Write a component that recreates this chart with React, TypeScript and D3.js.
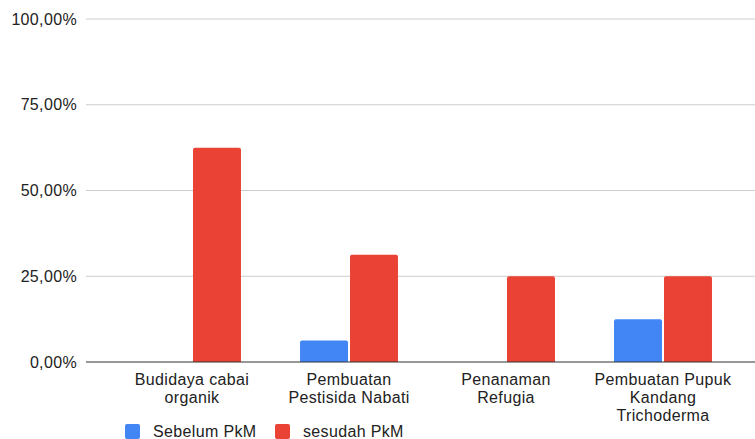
import React from "react";
import * as d3 from "d3";

const categories: string[][] = [
  ["Budidaya cabai", "organik"],
  ["Pembuatan", "Pestisida Nabati"],
  ["Penanaman", "Refugia"],
  ["Pembuatan Pupuk", "Kandang", "Trichoderma"],
];
const seriesNames = ["Sebelum PkM", "sesudah PkM"];
const seriesColors = ["#4285F4", "#EA4335"];
const sebelum = [0, 6.25, 0, 12.5];
const sesudah = [62.5, 31.25, 25, 25];
const yTicks = [0, 25, 50, 75, 100];

const W = 755;
const H = 439;
const FONT = "Arial, 'Liberation Sans', sans-serif";
const LS = 0.35;

export default function App() {
  const catKeys = categories.map((c) => c.join(" "));
  const x = d3
    .scaleBand<string>()
    .domain(catKeys)
    .range([113.5, 741.5])
    .paddingInner(0.376)
    .paddingOuter(0.188);
  const xs = d3
    .scaleBand<string>()
    .domain(seriesNames)
    .range([0, x.bandwidth()])
    .paddingInner(0.04);
  const y = d3.scaleLinear().domain([0, 100]).range([362, 19]);
  const fmt = (v: number) => v.toFixed(2).replace(".", ",") + "%";
  const values = [sebelum, sesudah];
  const left = 86;

  return (
    <div>
      <style>{`body{margin:0}`}</style>
      <svg width={W} height={H} style={{ display: "block", fontFamily: FONT }}>
        <rect width={W} height={H} fill="#fff" />
        {yTicks.map((t) => (
          <g key={t}>
            {t !== 0 && (
              <line x1={left} x2={W} y1={y(t)} y2={y(t)} stroke="#cccccc" strokeWidth={1} />
            )}
            <text x={77} y={y(t)} dy="0.35em" textAnchor="end" fontSize={16} fill="#222" letterSpacing={LS}>
              {fmt(t)}
            </text>
          </g>
        ))}
        {values.map((vals, si) =>
          vals.map((v, ci) => {
            if (v <= 0) return null;
            const bx = (x(catKeys[ci]) as number) + (xs(seriesNames[si]) as number);
            const by = y(v);
            const bw = xs.bandwidth();
            const bh = y(0) - by;
            const r = 2;
            const d = `M${bx},${by + bh} L${bx},${by + r} Q${bx},${by} ${bx + r},${by} L${bx + bw - r},${by} Q${bx + bw},${by} ${bx + bw},${by + r} L${bx + bw},${by + bh} Z`;
            return <path key={`${si}-${ci}`} d={d} fill={seriesColors[si]} />;
          })
        )}
        <line x1={left} x2={W} y1={y(0)} y2={y(0)} stroke="#333" strokeWidth={1.2} />
        {categories.map((lines, ci) => {
          const cx = (x(catKeys[ci]) as number) + x.bandwidth() / 2;
          return (
            <text key={ci} textAnchor="middle" fontSize={16} fill="#222" letterSpacing={LS}>
              {lines.map((l, li) => (
                <tspan key={li} x={cx} y={385 + li * 18}>
                  {l}
                </tspan>
              ))}
            </text>
          );
        })}
        {seriesNames.map((s, si) => {
          const lx = [125, 275][si];
          return (
            <g key={s}>
              <rect x={lx} y={424} width={15} height={15} rx={2} fill={seriesColors[si]} />
              <text x={lx + 28} y={437} fontSize={16} fill="#222" letterSpacing={LS}>
                {s}
              </text>
            </g>
          );
        })}
      </svg>
    </div>
  );
}
